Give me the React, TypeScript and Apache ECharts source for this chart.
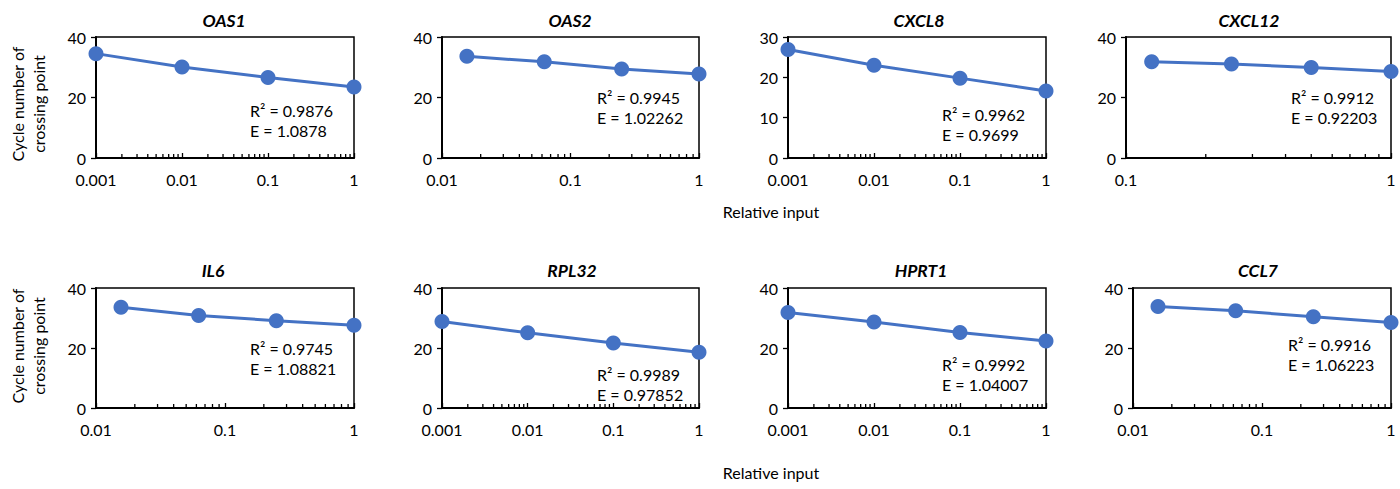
import React, { useEffect, useRef } from "react";
import * as echarts from "echarts";

const genes = ["OAS1", "OAS2", "CXCL8", "CXCL12", "IL6", "RPL32", "HPRT1", "CCL7"];

const xDecade3 = [0.001, 0.01, 0.1, 1];
const xFourfold = [0.015625, 0.0625, 0.25, 1];
const xTwofold = [0.125, 0.25, 0.5, 1];

const xValues = [xDecade3, xFourfold, xDecade3, xTwofold, xFourfold, xDecade3, xDecade3, xFourfold];

const yOAS1 = [34.5, 30.1, 26.6, 23.5];
const yOAS2 = [33.6, 31.8, 29.4, 27.8];
const yCXCL8 = [26.9, 23.0, 19.8, 16.6];
const yCXCL12 = [31.8, 31.1, 29.9, 28.6];
const yIL6 = [33.6, 30.8, 29.1, 27.6];
const yRPL32 = [28.8, 25.1, 21.7, 18.6];
const yHPRT1 = [31.8, 28.7, 25.2, 22.3];
const yCCL7 = [33.8, 32.4, 30.4, 28.5];
const yValues = [yOAS1, yOAS2, yCXCL8, yCXCL12, yIL6, yRPL32, yHPRT1, yCCL7];

const r2Labels = ["0.9876", "0.9945", "0.9962", "0.9912", "0.9745", "0.9989", "0.9992", "0.9916"];
const eLabels = ["1.0878", "1.02262", "0.9699", "0.92203", "1.08821", "0.97852", "1.04007", "1.06223"];

const xMins = [0.001, 0.01, 0.001, 0.1, 0.01, 0.001, 0.001, 0.01];
const yMaxes = [40, 40, 30, 40, 40, 40, 40, 40];
const yIntervals = [20, 20, 10, 20, 20, 20, 20, 20];

const xAxisTitle = "Relative input";
const yAxisTitle = "Cycle number of\ncrossing point";

// layout (pixels)
const grids = [
  { left: 96, top: 37, width: 258, height: 121 },
  { left: 442, top: 37, width: 257, height: 121 },
  { left: 788, top: 37, width: 258, height: 121 },
  { left: 1126, top: 37, width: 265, height: 121 },
  { left: 96, top: 288, width: 258, height: 120 },
  { left: 442, top: 288, width: 257, height: 120 },
  { left: 788, top: 288, width: 258, height: 120 },
  { left: 1133, top: 288, width: 258, height: 120 },
];
const titlePos = [
  [224, 20], [570, 20], [919, 20], [1249, 20],
  [213, 270], [572, 270], [921, 270], [1258, 270],
];
const notePos = [
  [250, 110], [597, 97], [942, 114], [1291, 97],
  [250, 348], [597, 374], [942, 364], [1288, 344],
];

const FONT = "Lato, 'Open Sans', sans-serif";
const BLUE = "#4472C4";
const FS = 16;

function minorTickValues(min: number): number[][] {
  const out: number[][] = [];
  for (let d = min; d < 0.999; d *= 10) {
    for (let k = 2; k <= 9; k++) out.push([parseFloat((k * d).toPrecision(3)), 0]);
  }
  return out;
}

export default function App() {
  const ref = useRef<HTMLDivElement>(null);
  useEffect(() => {
    if (!ref.current) return;
    const chart = echarts.init(ref.current, undefined, { renderer: "svg" });
    const xAxis: any[] = [];
    const yAxis: any[] = [];
    const series: any[] = [];
    const graphic: any[] = [];
    genes.forEach((g, i) => {
      xAxis.push({
        type: "log",
        logBase: 10,
        gridIndex: i,
        min: xMins[i],
        max: 1,
        axisLine: { show: true, onZero: false, lineStyle: { color: "#000", width: 2 } },
        axisTick: { show: true, inside: true, length: 5, lineStyle: { color: "#000", width: 1.3 } },
        axisLabel: {
          fontSize: FS,
          color: "#000",
          fontFamily: FONT,
          margin: 13,
          formatter: (v: number) => String(parseFloat(v.toPrecision(3))),
        },
        splitLine: { show: false },
      });
      yAxis.push({
        type: "value",
        gridIndex: i,
        min: 0,
        max: yMaxes[i],
        interval: yIntervals[i],
        axisLine: { show: true, lineStyle: { color: "#000", width: 2 } },
        axisTick: { show: true, inside: false, length: 5, lineStyle: { color: "#000", width: 1.3 } },
        axisLabel: { fontSize: FS, color: "#000", fontFamily: FONT, margin: 10 },
        splitLine: { show: false },
      });
      series.push({
        type: "custom",
        xAxisIndex: i,
        yAxisIndex: i,
        silent: true,
        clip: false,
        data: minorTickValues(xMins[i]),
        encode: { x: 0, y: 1 },
        renderItem: (params: any, api: any) => {
          const p = api.coord([api.value(0), 0]);
          return {
            type: "line",
            shape: { x1: p[0], y1: p[1], x2: p[0], y2: p[1] - 4 },
            style: { stroke: "#000", lineWidth: 1.3 },
          };
        },
      });
      series.push({
        type: "line",
        name: g,
        xAxisIndex: i,
        yAxisIndex: i,
        clip: false,
        data: xValues[i].map((x, j) => [x, yValues[i][j]]),
        symbol: "circle",
        symbolSize: 15,
        lineStyle: { color: BLUE, width: 3 },
        itemStyle: { color: BLUE },
        z: 5,
      });
      graphic.push({
        type: "text",
        x: titlePos[i][0],
        y: titlePos[i][1],
        style: {
          text: g,
          fontSize: 17.5,
          fontWeight: "bold",
          fontStyle: "italic",
          fontFamily: FONT,
          fill: "#000",
          align: "center",
          verticalAlign: "middle",
        },
      });
      graphic.push({
        type: "text",
        x: notePos[i][0],
        y: notePos[i][1],
        style: {
          text: "R² = " + r2Labels[i],
          fontSize: FS,
          fontFamily: FONT,
          fill: "#000",
          align: "left",
          verticalAlign: "middle",
        },
      });
      graphic.push({
        type: "text",
        x: notePos[i][0],
        y: notePos[i][1] + 20,
        style: {
          text: "E = " + eLabels[i],
          fontSize: FS,
          fontFamily: FONT,
          fill: "#000",
          align: "left",
          verticalAlign: "middle",
        },
      });
    });
    [211, 472].forEach((y) => {
      graphic.push({
        type: "text",
        x: 771,
        y,
        style: { text: xAxisTitle, fontSize: FS, fontFamily: FONT, fill: "#000", align: "center", verticalAlign: "middle" },
      });
    });
    [104, 346].forEach((y) => {
      graphic.push({
        type: "text",
        x: 28,
        y,
        rotation: Math.PI / 2,
        style: {
          text: yAxisTitle,
          fontSize: FS,
          lineHeight: 21,
          fontFamily: FONT,
          fill: "#000",
          align: "center",
          verticalAlign: "middle",
        },
      });
    });
    chart.setOption({
      animation: false,
      backgroundColor: "#fff",
      grid: grids.map((g) => ({ ...g, show: true, borderColor: "#000", borderWidth: 1.5, containLabel: false })),
      xAxis,
      yAxis,
      series,
      graphic,
    });
    return () => chart.dispose();
  }, []);
  return <div ref={ref} style={{ position: "fixed", left: 0, top: 0, width: 1400, height: 489 }} />;
}
